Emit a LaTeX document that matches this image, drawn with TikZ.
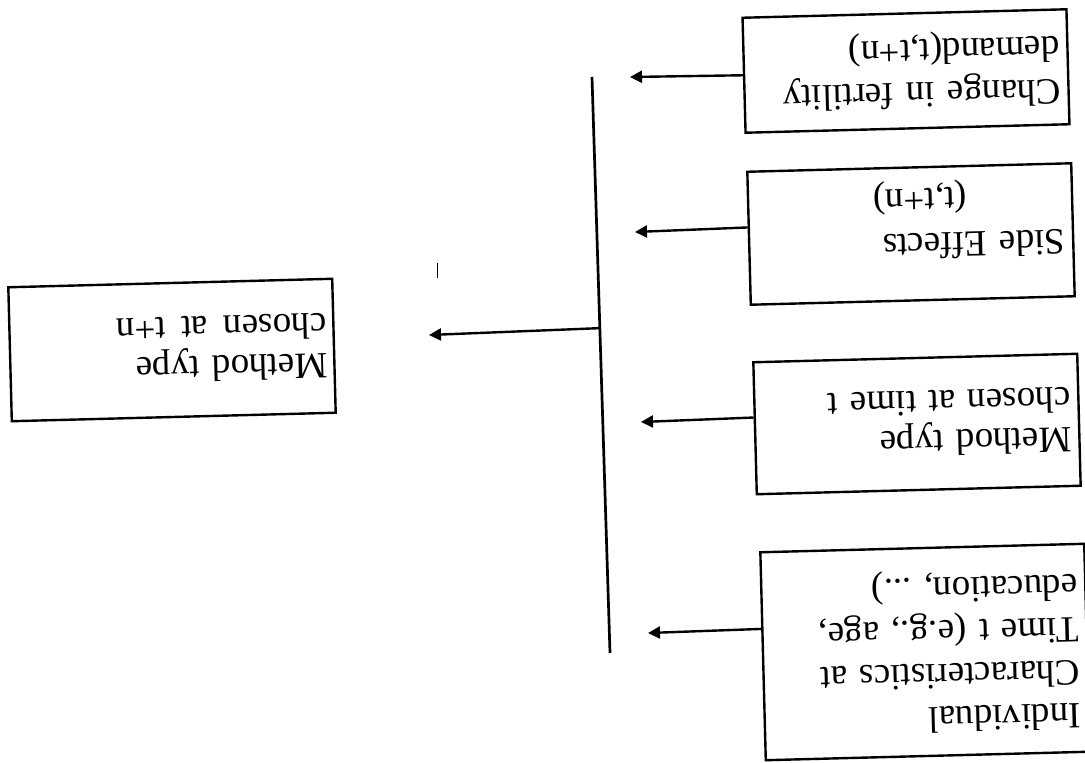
\documentclass[tikz,border=0pt]{standalone}
\usepackage{fontspec}
\setmainfont{Liberation Serif}
\usetikzlibrary{arrows.meta,calc}
\begin{document}
\begin{tikzpicture}[x=1pt,y=-1pt,
  box/.style={draw, line width=2.4pt, rotate=181.5, minimum width=324pt,
    text width=308pt, inner xsep=8pt, align=left,
    font=\fontsize{37}{40}\selectfont},
  arr/.style={line width=2.4pt, -{Triangle[length=12pt,width=12pt]}},
  vline/.style={line width=2.7pt}]
\useasboundingbox (0,0) rectangle (1085,763);
% input boxes
\node[box, minimum height=115pt, font=\fontsize{37}{43}\selectfont] (b1) at (906,71) {Change in fertility\\demand(t,t+n)};
\node[box, minimum height=133pt, font=\fontsize{37}{45}\selectfont] (b2) at (911,234) {\rule{0pt}{53pt}Side Effects\\\hspace*{97pt}(t,t+n)};
\node[box, minimum height=132pt] (b3) at (917,424) {Method type\\chosen at time t};
\node[box, minimum height=208pt, font=\fontsize{37}{43}\selectfont] (b4) at (925,652) {Individual\\Characteristics at\\Time t (e.g., age,\\education, ...)};
% outcome box
\node[box, minimum height=134pt, inner xsep=7pt, text width=310pt] (out) at (172,350) {Method type\\chosen\hspace{0.42em}at\hspace{0.42em}t+n};
% collecting line
\coordinate (vtop) at (592,77);
\coordinate (vbot) at (610,653);
\draw[vline] (vtop) -- (vbot);
% arrow tips
\coordinate (t1) at (630,77);
\coordinate (t2) at (635,232);
\coordinate (t3) at (641,422);
\coordinate (t4) at (648,633);
\coordinate (tm) at (429,335);
\coordinate (vm) at ($(vtop)!0.436!(vbot)$);
\draw[arr] (b1.east) -- (t1);
\draw[arr] ($(b2.south east)!0.42!(b2.north east)$) -- (t2);
\draw[arr] ($(b3.south east)!0.42!(b3.north east)$) -- (t3);
\draw[arr] ($(b4.south east)!0.37!(b4.north east)$) -- (t4);
\draw[arr] (vm) -- (tm);
% stray mark
\coordinate (k1) at (437,263);
\coordinate (k2) at (437,278);
\draw[line width=1pt] (k1) -- (k2);
\end{tikzpicture}
\end{document}
